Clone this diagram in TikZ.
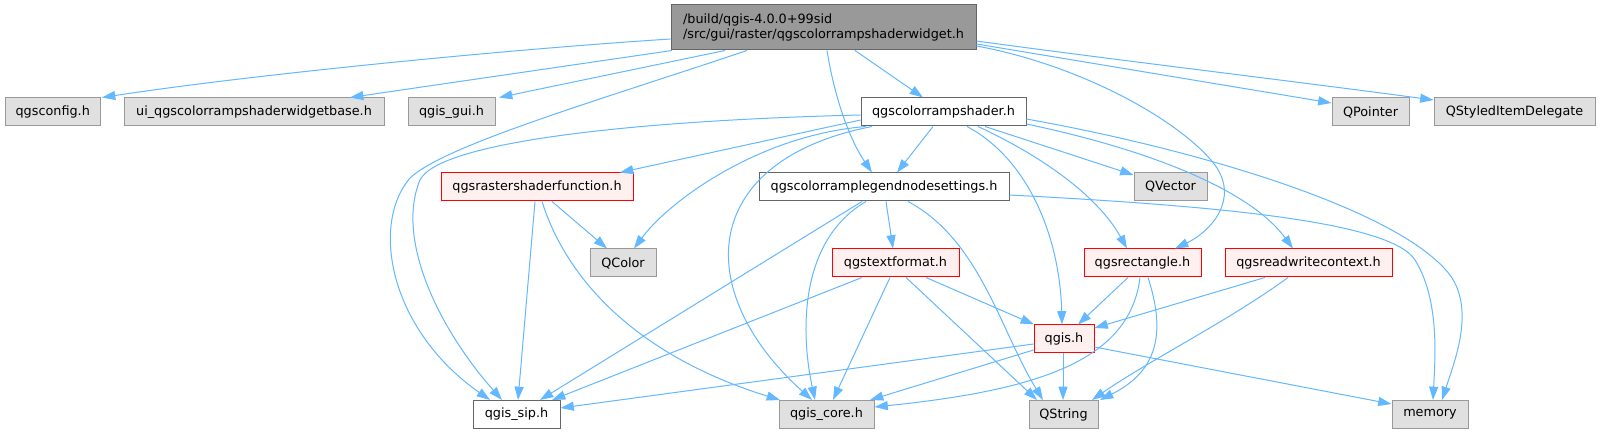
\documentclass[tikz,border=0pt]{standalone}
\usepackage{fontspec}
\setmainfont{DejaVu Sans}
\usetikzlibrary{arrows.meta}
\definecolor{edgec}{HTML}{63B8FF}
\definecolor{cdark}{HTML}{666666}
\definecolor{cmid}{HTML}{999999}
\definecolor{cgray}{HTML}{E0E0E0}
\definecolor{cpink}{HTML}{FFF0F0}
\definecolor{cred}{HTML}{FF0000}
\begin{document}
\begin{tikzpicture}[x=0.75pt,y=-0.75pt,
 box/.style={draw, rectangle, inner sep=0pt, minimum height=21pt, line width=0.75pt, font=\fontsize{9.6}{11.5}\selectfont},
 wbox/.style={box, draw=cdark, fill=white},
 gbox/.style={box, draw=cmid, fill=cgray},
 rbox/.style={box, draw=cred, fill=cpink},
 rootbox/.style={box, draw=cdark, fill=cmid, align=left, minimum height=33.75pt},
 bw/.style={minimum width=#1*0.75pt},
 edge/.style={draw=edgec, line width=0.75pt, -{Triangle[length=10pt,width=6.8pt]}}]
\fill[white] (0,0) rectangle (1600,434);
\useasboundingbox (0,0) rectangle (1600,434);

% nodes
\node[rootbox, bw=305] (root) at (823.5,27.5) {/build/qgis-4.0.0+99sid\\/src/gui/raster/qgscolorrampshaderwidget.h};
\node[gbox, bw=95.5] (cfg) at (52.75,112) {qgsconfig.h};
\node[gbox, bw=260] (ui) at (254,112) {ui\_qgscolorrampshaderwidgetbase.h};
\node[gbox, bw=87] (gui) at (451.5,112) {qgis\_gui.h};
\node[wbox, bw=165] (shader) at (943.5,112) {qgscolorrampshader.h};
\node[gbox, bw=77] (qptr) at (1370.5,112) {QPointer};
\node[gbox, bw=161] (qsid) at (1514.5,112) {QStyledItemDelegate};
\node[rbox, bw=192] (rsf) at (537,187) {qgsrastershaderfunction.h};
\node[wbox, bw=250] (legend) at (884,187) {qgscolorramplegendnodesettings.h};
\node[gbox, bw=73] (qvec) at (1170.5,187) {QVector};
\node[gbox, bw=66] (qcolor) at (623,263) {QColor};
\node[rbox, bw=127] (tfmt) at (895.5,263) {qgstextformat.h};
\node[rbox, bw=117] (rect) at (1142.5,263) {qgsrectangle.h};
\node[rbox, bw=167] (rwc) at (1308.5,263) {qgsreadwritecontext.h};
\node[rbox, bw=60] (qgis) at (1064,339) {qgis.h};
\node[wbox, bw=87] (sip) at (516.5,414.5) {qgis\_sip.h};
\node[gbox, bw=95] (core) at (826.5,414.5) {qgis\_core.h};
\node[gbox, bw=69] (qstr) at (1063.5,414.5) {QString};
\node[gbox, bw=76] (mem) at (1430,414.5) {memory};

% root edges
\draw[edge] (root.west |- 0,39) .. controls (500,50) and (250,75) .. (102,0 |- cfg.north);
\draw[edge] (672,0 |- root.south) -- (350,0 |- ui.north);
\draw[edge] (725,0 |- root.south) -- (499,0 |- gui.north);
\draw[edge] (747,0 |- root.south) .. controls (600,100) and (445,145) .. (410,178) .. controls (370,225) and (390,330) .. (490,0 |- sip.north);
\draw[edge] (855,0 |- root.south) -- (923,0 |- shader.north);
\draw[edge] (827,0 |- root.south) .. controls (835,100) and (850,140) .. (872,0 |- legend.north);
\draw[edge] (root.east |- 0,46) .. controls (1080,65) and (1180,120) .. (1215,165) .. controls (1240,200) and (1210,232) .. (1175,0 |- rect.north);
\draw[edge] (root.east |- 0,44) -- (qptr.west |- 0,103);
\draw[edge] (root.east |- 0,41) .. controls (1100,58) and (1300,82) .. (qsid.west |- 0,100);

% shader edges
\draw[edge] (shader.west |- 0,120) -- (620,0 |- rsf.north);
\draw[edge] (shader.west |- 0,115) .. controls (650,120) and (440,140) .. (420,180) .. controls (395,240) and (440,330) .. (502,0 |- sip.north);
\draw[edge] (866,0 |- shader.south) .. controls (760,135) and (670,200) .. (634,0 |- qcolor.north);
\draw[edge] (872,0 |- shader.south) .. controls (700,160) and (690,290) .. (812,0 |- core.north);
\draw[edge] (933,0 |- shader.south) -- (897,0 |- legend.north);
\draw[edge] (967,0 |- shader.south) .. controls (1030,160) and (1060,240) .. (1062,0 |- qgis.north);
\draw[edge] (978,0 |- shader.south) .. controls (1050,160) and (1100,200) .. (1127,0 |- rect.north);
\draw[edge] (985,0 |- shader.south) -- (qvec.west |- 0,175);
\draw[edge] (shader.east |- 0,124) .. controls (1150,150) and (1250,190) .. (1293,0 |- rwc.north);
\draw[edge] (shader.east |- 0,119) .. controls (1200,150) and (1400,210) .. (1450,275) .. controls (1475,310) and (1455,360) .. (1442,0 |- mem.north);

% legend edges
\draw[edge] (886,0 |- legend.south) -- (893,0 |- tfmt.north);
\draw[edge] (862,0 |- legend.south) -- (540,0 |- sip.north);
\draw[edge] (866,0 |- legend.south) .. controls (800,240) and (800,330) .. (815,0 |- core.north);
\draw[edge] (908,0 |- legend.south) .. controls (980,240) and (1000,330) .. (1043,0 |- qstr.north);
\draw[edge] (legend.east |- 0,195) .. controls (1200,205) and (1390,220) .. (1415,260) .. controls (1440,300) and (1435,360) .. (1433,0 |- mem.north);

% rastershaderfunction edges
\draw[edge] (552,0 |- rsf.south) -- (607,0 |- qcolor.north);
\draw[edge] (535,0 |- rsf.south) -- (518,0 |- sip.north);
\draw[edge] (542,0 |- rsf.south) .. controls (570,290) and (650,360) .. (780,0 |- core.north);

% textformat edges
\draw[edge] (862,0 |- tfmt.south) -- (552,0 |- sip.north);
\draw[edge] (890,0 |- tfmt.south) -- (833,0 |- core.north);
\draw[edge] (906,0 |- tfmt.south) -- (1037,0 |- qstr.north);
\draw[edge] (926,0 |- tfmt.south) -- (1034,0 |- qgis.north);

% rectangle edges
\draw[edge] (1128,0 |- rect.south) -- (1078,0 |- qgis.north);
\draw[edge] (1140,0 |- rect.south) .. controls (1130,360) and (1040,390) .. (core.east |- 0,407);
\draw[edge] (1148,0 |- rect.south) .. controls (1165,330) and (1160,370) .. (1100,0 |- qstr.north);

% readwritecontext edges
\draw[edge] (1265,0 |- rwc.south) -- (qgis.east |- 0,328);
\draw[edge] (1288,0 |- rwc.south) .. controls (1230,320) and (1150,360) .. (1092,0 |- qstr.north);

% qgis.h edges
\draw[edge] (qgis.west |- 0,344) -- (sip.east |- 0,408);
\draw[edge] (qgis.west |- 0,350) -- (870,0 |- core.north);
\draw[edge] (1063,0 |- qgis.south) -- (1063,0 |- qstr.north);
\draw[edge] (qgis.east |- 0,347) -- (mem.west |- 0,404);
\end{tikzpicture}
\end{document}
